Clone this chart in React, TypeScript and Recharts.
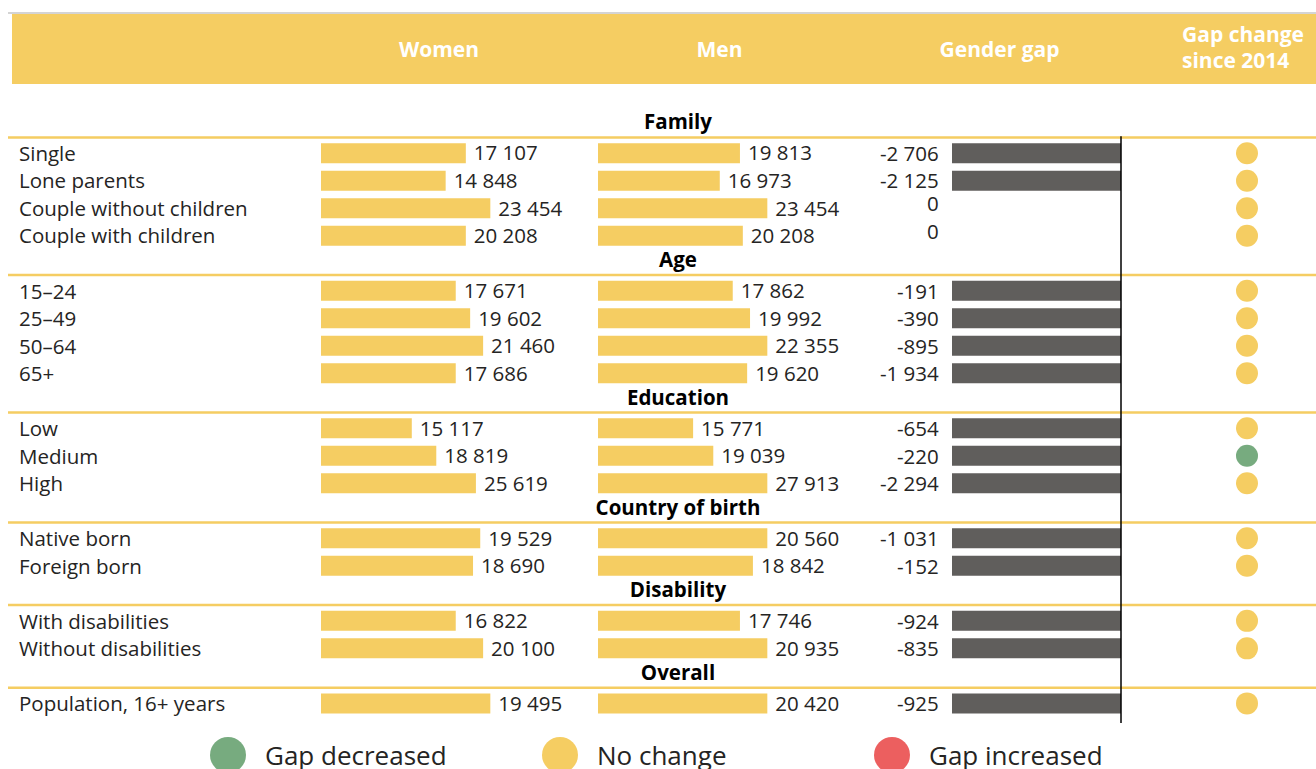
import { BarChart, Bar, XAxis, YAxis, LabelList, ReferenceLine, Legend } from 'recharts'

const YELLOW = '#f5cd62'
const GREEN = '#77ab7f'
const RED = '#ec5f5f'
const GREY = '#605e5c'
const TEXT = '#252423'

const sectionNames = ['Family', 'Age', 'Education', 'Country of birth', 'Disability', 'Overall']

const categories = [
  'Family', 'Single', 'Lone parents', 'Couple without children', 'Couple with children',
  'Age', '15–24', '25–49', '50–64', '65+',
  'Education', 'Low', 'Medium', 'High',
  'Country of birth', 'Native born', 'Foreign born',
  'Disability', 'With disabilities', 'Without disabilities',
  'Overall', 'Population, 16+ years',
]

// one entry per data row (section headings skipped)
const women = [17107, 14848, 23454, 20208, 17671, 19602, 21460, 17686, 15117, 18819, 25619, 19529, 18690, 16822, 20100, 19495]
const men = [19813, 16973, 23454, 20208, 17862, 19992, 22355, 19620, 15771, 19039, 27913, 20560, 18842, 17746, 20935, 20420]
const gap = [-2706, -2125, 0, 0, -191, -390, -895, -1934, -654, -220, -2294, -1031, -152, -924, -835, -925]
// the bars in the source don't follow the labels, so their lengths are read separately
const womenBar = [20100, 17300, 23500, 20100, 18700, 20700, 22500, 18700, 12600, 16000, 21500, 22100, 21100, 18700, 22500, 23500]
const menBar = [19700, 16900, 23500, 20100, 18700, 21100, 23500, 20700, 13200, 16000, 23500, 23500, 21500, 19700, 23500, 23500]
const change = ['same', 'same', 'same', 'same', 'same', 'same', 'same', 'same', 'same', 'decreased', 'same', 'same', 'same', 'same', 'same', 'same']

const changeColors: Record<string, string> = { decreased: GREEN, same: YELLOW, increased: RED }
const legendItems = [
  { label: 'Gap decreased', color: GREEN },
  { label: 'No change', color: YELLOW },
  { label: 'Gap increased', color: RED },
]

let k = 0
const rows = categories.map((name) => {
  if (sectionNames.includes(name)) return { name, section: true }
  const i = k++
  return {
    name,
    section: false,
    women: women[i],
    men: men[i],
    gap: gap[i],
    womenBar: womenBar[i],
    menBar: menBar[i],
    change: change[i],
    dot: 1,
  }
})

const H = 769
const TOP = 111.7
const BOTTOM = 52.1
const BAND = (H - TOP - BOTTOM) / categories.length

const fmt = (v: any) => String(v).replace(/\B(?=(\d{3})+(?!\d))/g, ' ')

function RowTick({ y, payload }: any) {
  const name = payload.value
  if (sectionNames.includes(name)) {
    return (
      <g>
        <text x={678} y={y - 4} textAnchor="middle" dominantBaseline="central" fontSize={20.5} fontWeight={700} fill="#000">
          {name}
        </text>
        <line x1={8} x2={1316} y1={y + 12} y2={y + 12} stroke={YELLOW} strokeWidth={2.5} />
      </g>
    )
  }
  return (
    <text x={19} y={y} dominantBaseline="central" fontSize={20.5} fill={TEXT}>
      {name}
    </text>
  )
}

function GapTick({ y, payload }: any) {
  const row: any = rows.find((r) => r.name === payload.value)
  if (!row || row.section) return null
  return (
    <text x={78.7} y={row.gap === 0 ? y - 4.5 : y} textAnchor="end" dominantBaseline="central" fontSize={20.5} fill={TEXT}>
      {fmt(row.gap)}
    </text>
  )
}

function DotShape(props: any) {
  const { x, y, width, height, payload } = props
  if (!payload || !payload.change) return null
  return <circle cx={x + width} cy={y + height / 2} r={11} fill={changeColors[payload.change]} />
}

const renderLegend = () => (
  <div style={{ display: 'flex' }}>
    {legendItems.map((it) => (
      <div key={it.label} style={{ width: 332, display: 'flex', alignItems: 'center' }}>
        <span style={{ width: 36, height: 36, borderRadius: '50%', background: it.color, marginRight: 19, flex: 'none' }} />
        <span style={{ fontSize: 26, color: TEXT, lineHeight: '36px' }}>{it.label}</span>
      </div>
    ))}
  </div>
)

const headStyle: any = {
  position: 'absolute',
  color: '#fff',
  fontWeight: 700,
  fontSize: 21,
  whiteSpace: 'nowrap',
}

export default function App() {
  return (
    <div
      style={{
        position: 'absolute',
        left: 0,
        top: 0,
        width: 1316,
        height: H,
        overflow: 'hidden',
        background: '#fff',
        fontFamily: '"Open Sans", sans-serif',
      }}
    >
      <div style={{ position: 'absolute', left: 8, top: 12, width: 1308, height: 2, background: '#d4d4d4' }} />
      <div style={{ position: 'absolute', left: 12, top: 14, width: 1304, height: 70, background: YELLOW }} />
      <div style={{ ...headStyle, left: 439, top: 49, transform: 'translate(-50%, -50%)' }}>Women</div>
      <div style={{ ...headStyle, left: 719.5, top: 49, transform: 'translate(-50%, -50%)' }}>Men</div>
      <div style={{ ...headStyle, left: 999.5, top: 49, transform: 'translate(-50%, -50%)' }}>Gender gap</div>
      <div style={{ ...headStyle, left: 1182, top: 21, lineHeight: '26px' }}>
        Gap change
        <br />
        since 2014
      </div>

      {/* row labels, section lines and women bars */}
      <div style={{ position: 'absolute', left: 0, top: 0 }}>
        <BarChart
          width={1316}
          height={H}
          data={rows}
          layout="vertical"
          margin={{ top: TOP, bottom: BOTTOM, left: 0, right: 58.3 }}
        >
          <XAxis type="number" domain={[0, 130000]} hide />
          <YAxis
            type="category"
            dataKey="name"
            width={321}
            axisLine={false}
            tickLine={false}
            interval={0}
            tick={(p: any) => <RowTick {...p} />}
          />
          <Bar dataKey="womenBar" fill={YELLOW} barSize={20} isAnimationActive={false}>
            <LabelList dataKey="women" position="right" offset={8} formatter={fmt} fill={TEXT} fontSize={20.5} />
          </Bar>
          <Legend
            layout="horizontal"
            verticalAlign="middle"
            align="center"
            content={renderLegend}
            wrapperStyle={{ position: 'absolute', left: 210, top: 737, width: 1000, height: 36 }}
          />
        </BarChart>
      </div>

      {/* men bars */}
      <div style={{ position: 'absolute', left: 598, top: 0 }}>
        <BarChart
          width={280}
          height={H}
          data={rows}
          layout="vertical"
          margin={{ top: TOP, bottom: BOTTOM, left: 0, right: 20.6 }}
        >
          <XAxis type="number" domain={[0, 36000]} hide />
          <YAxis type="category" dataKey="name" hide width={0} />
          <Bar dataKey="menBar" fill={YELLOW} barSize={20} isAnimationActive={false}>
            <LabelList dataKey="men" position="right" offset={8} formatter={fmt} fill={TEXT} fontSize={20.5} />
          </Bar>
        </BarChart>
      </div>

      {/* gender gap */}
      <div style={{ position: 'absolute', left: 860, top: 0 }}>
        <BarChart
          width={270}
          height={H}
          data={rows.slice(1)}
          layout="vertical"
          margin={{ top: TOP + BAND, bottom: BOTTOM, left: 0, right: 9 }}
        >
          <XAxis type="number" domain={[-150, 0]} allowDataOverflow hide />
          <YAxis
            type="category"
            dataKey="name"
            width={92}
            axisLine={false}
            tickLine={false}
            interval={0}
            tick={(p: any) => <GapTick {...p} />}
          />
          <Bar dataKey="gap" fill={GREY} barSize={20} isAnimationActive={false} />
          <ReferenceLine
            x={0}
            stroke="#000"
            strokeWidth={1.5}
            shape={(p: any) => (
              <line x1={p.x1} x2={p.x2} y1={p.y1 + 6} y2={p.y2 - 3} stroke="#000" strokeWidth={1.5} />
            )}
          />
        </BarChart>
      </div>

      {/* gap change since 2014 */}
      <div style={{ position: 'absolute', left: 1197, top: 0 }}>
        <BarChart
          width={100}
          height={H}
          data={rows}
          layout="vertical"
          margin={{ top: TOP, bottom: BOTTOM, left: 0, right: 0 }}
        >
          <XAxis type="number" domain={[0, 2]} hide />
          <YAxis type="category" dataKey="name" hide width={0} />
          <Bar dataKey="dot" barSize={20} shape={<DotShape />} isAnimationActive={false} />
        </BarChart>
      </div>
    </div>
  )
}
